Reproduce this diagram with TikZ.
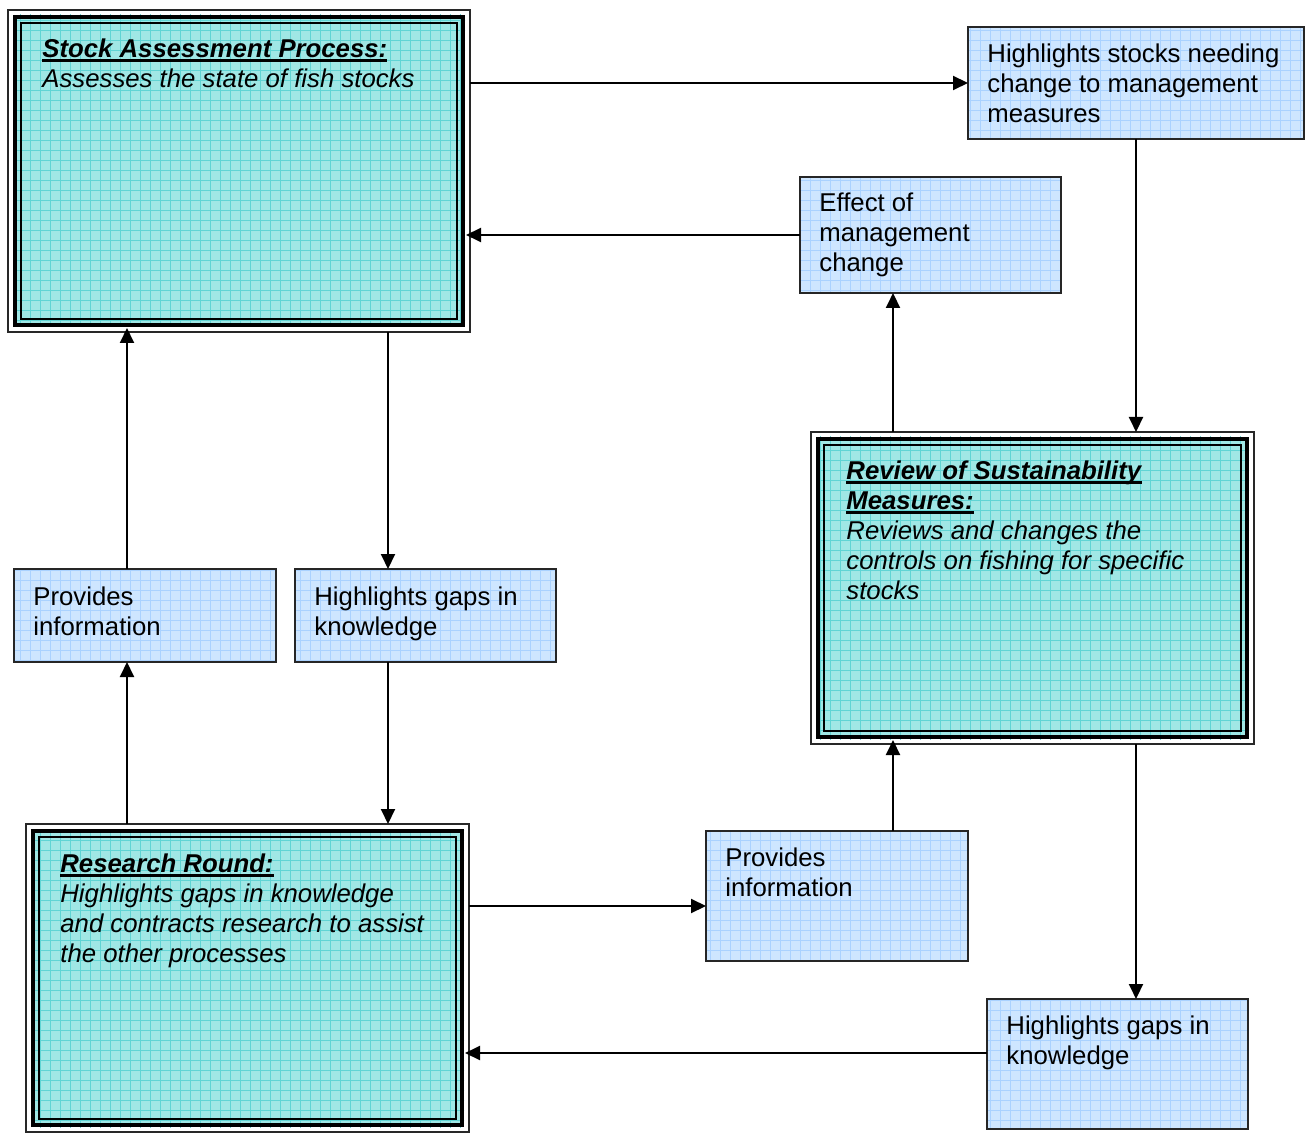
\documentclass[tikz,border=0pt]{standalone}
\usepackage{fontspec}
\setmainfont{Liberation Sans}
\usetikzlibrary{arrows.meta,calc}

\definecolor{seafill}{RGB}{160,231,229}
\definecolor{seagrid}{RGB}{96,212,212}
\definecolor{skyfill}{RGB}{206,230,255}
\definecolor{skygrid}{RGB}{170,210,255}
\definecolor{rimgray}{RGB}{40,40,40}

% bold italic heading with a heavy underline
\newcommand\headline[1]{\setbox0\hbox{\textbf{\textit{#1}}}\rlap{\rule[-2.5pt]{\wd0}{1.5pt}}\box0}
% fixes the height of a text block's first line
\newcommand\firstline{\rule{0pt}{10pt}}

% square ruling clipped to a rectangle
\newcommand\gridover[3]{%
  \begin{scope}
    \clip #1 rectangle #2;
    \draw[#3, line width=0.45pt]
      foreach \g in {0,10,...,1310} {(\g,0) -- (\g,1140)}
      foreach \g in {0,10,...,1140} {(0,\g) -- (1310,\g)};
  \end{scope}}

% process box: thin rim, sea-green ruled fill, thick and thin inner frames
\newcommand\processframe[1]{%
  \fill[seafill] ([shift={(5,5)}]#1.north west) rectangle ([shift={(-5,-5)}]#1.south east);
  \gridover{([shift={(5,5)}]#1.north west)}{([shift={(-5,-5)}]#1.south east)}{seagrid}
  \draw[line width=2.3pt] ([shift={(7,7)}]#1.north west) rectangle ([shift={(-7,-7)}]#1.south east);
  \draw[line width=1pt] ([shift={(13,13)}]#1.north west) rectangle ([shift={(-13,-13)}]#1.south east);}

% note box: ruling over the light-blue fill, then its border
\newcommand\noteframe[1]{%
  \gridover{(#1.north west)}{(#1.south east)}{skygrid}
  \draw[line width=0.8pt, black!85] (#1.north west) rectangle (#1.south east);}

\begin{document}
\begin{tikzpicture}[x=0.5pt, y=-0.5pt,
  process/.style={draw=rimgray, line width=0.75pt, fill=white, inner sep=0, outer sep=0},
  note/.style={fill=skyfill, inner sep=0, outer sep=0},
  txt/.style={anchor=north west, inner sep=0, align=left,
    font=\fontsize{12.875pt}{15pt}\selectfont},
  arr/.style={-{Triangle[length=7.5pt,width=7pt]}, line width=1pt}]

\useasboundingbox (0,0) rectangle (1310,1133);

% boxes
\node[process, minimum width=231pt, minimum height=161pt] (sa) at (239,171) {};
\node[process, minimum width=221.5pt, minimum height=156pt] (rv) at (1032.5,588) {};
\node[process, minimum width=221.5pt, minimum height=154pt] (rr) at (247.5,978) {};
\node[note, minimum width=168pt, minimum height=56pt] (hs) at (1136,83) {};
\node[note, minimum width=130.5pt, minimum height=58pt] (ef) at (930.5,235) {};
\node[note, minimum width=131pt, minimum height=46.5pt] (pl) at (145,615.5) {};
\node[note, minimum width=130.5pt, minimum height=46.5pt] (gm) at (425.5,615.5) {};
\node[note, minimum width=131pt, minimum height=65pt] (pr) at (837,896) {};
\node[note, minimum width=130.5pt, minimum height=65pt] (gb) at (1117.5,1064) {};

\processframe{sa}
\processframe{rv}
\processframe{rr}
\noteframe{hs}
\noteframe{ef}
\noteframe{pl}
\noteframe{gm}
\noteframe{pr}
\noteframe{gb}

% texts
\node[txt] (sa-t) at (42,37) {\firstline\headline{Stock Assessment Process:}\\
  \textit{Assesses the state of fish stocks}};
\node[txt] (rv-t) at (846,459) {\firstline\headline{Review of Sustainability}\\
  \headline{Measures:}\\
  \textit{Reviews and changes the}\\
  \textit{controls on fishing for specific}\\
  \textit{stocks}};
\node[txt] (rr-t) at (60,852) {\firstline\headline{Research Round:}\\
  \textit{Highlights gaps in knowledge}\\
  \textit{and contracts research to assist}\\
  \textit{the other processes}};
\node[txt] (hs-t) at (987,42) {\firstline Highlights stocks needing\\change to management\\measures};
\node[txt] (ef-t) at (819,191) {\firstline Effect of\\management\\change};
\node[txt] (pl-t) at (33,585) {\firstline Provides\\information};
\node[txt] (gm-t) at (314,585) {\firstline Highlights gaps in\\knowledge};
\node[txt] (pr-t) at (725,846) {\firstline Provides\\information};
\node[txt] (gb-t) at (1006,1014) {\firstline Highlights gaps in\\knowledge};

% guide coordinates for the connector runs
\coordinate (x127) at (127,0);
\coordinate (x388) at (388,0);
\coordinate (x893) at (893,0);
\coordinate (x1136) at (1136,0);
\coordinate (y906) at (0,906);
\coordinate (y1053) at (0,1053);

% connectors
\draw[arr] (sa.east |- hs.west) -- (hs.west);
\draw[arr] (hs.south) -- (hs.south |- rv.north);
\draw[arr] (rv.north -| x893) -- (ef.south -| x893);
\draw[arr] (ef.west) -- ([xshift=-2pt]sa.east |- ef.west);
\draw[arr] (sa.south -| x388) -- (gm.north -| x388);
\draw[arr] (gm.south -| x388) -- (rr.north -| x388);
\draw[arr] (rr.north -| x127) -- (pl.south -| x127);
\draw[arr] (pl.north -| x127) -- ([yshift=2pt]sa.south -| x127);
\draw[arr] (rr.east |- y906) -- (pr.west |- y906);
\draw[arr] (pr.north -| x893) -- ([yshift=2pt]rv.south -| x893);
\draw[arr] (rv.south -| x1136) -- (gb.north -| x1136);
\draw[arr] (gb.west |- y1053) -- ([xshift=-2pt]rr.east |- y1053);
\end{tikzpicture}
\end{document}
